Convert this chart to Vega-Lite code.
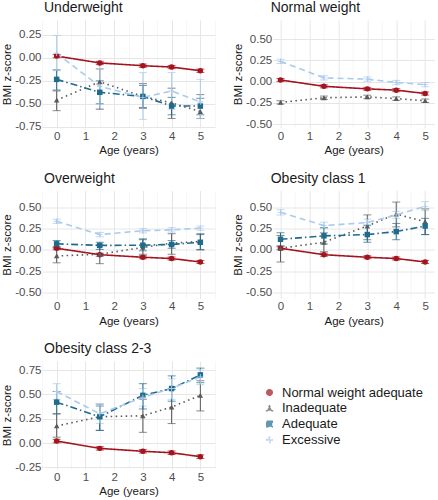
{
  "$schema": "https://vega.github.io/schema/vega-lite/v6.json",
  "padding": {"left": 1, "top": 1, "right": 0, "bottom": 0},
  "background": "white",
  "config": {
    "font": "Liberation Sans",
    "view": {"stroke": null},
    "axis": {"labelFont": "Liberation Sans", "labelFontSize": 11.5, "labelColor": "#4d4d4d", "titleFont": "Liberation Sans", "titleFontSize": 11.5, "titleFontWeight": "normal", "titleColor": "#1a1a1a", "domain": false, "ticks": false, "gridColor": "#e6e6e6", "labelPadding": 1, "labelOverlap": false, "labelFlush": false},
    "axisY": {"titlePadding": 2},
    "axisX": {"titlePadding": 3, "labelPadding": 2},
    "title": {"anchor": "start", "frame": "group", "fontSize": 14, "fontWeight": "normal", "color": "#1a1a1a", "font": "Liberation Sans", "offset": 5},
    "legend": {"labelFont": "Liberation Sans", "labelFontSize": 13, "labelColor": "#1a1a1a", "symbolSize": 30, "rowPadding": 1.8, "labelOffset": 6}
  },
  "data": {"values": [
    {"panel": "Reference", "group": "Normal weight adequate", "age": 0, "y": 0.02, "lo": 0.002, "hi": 0.038},
    {"panel": "Reference", "group": "Normal weight adequate", "age": 1.5, "y": -0.055, "lo": -0.073, "hi": -0.037},
    {"panel": "Reference", "group": "Normal weight adequate", "age": 3, "y": -0.085, "lo": -0.103, "hi": -0.067},
    {"panel": "Reference", "group": "Normal weight adequate", "age": 4, "y": -0.1, "lo": -0.118, "hi": -0.082},
    {"panel": "Reference", "group": "Normal weight adequate", "age": 5, "y": -0.14, "lo": -0.158, "hi": -0.122},

    {"panel": "Underweight", "group": "Inadequate", "age": 0, "y": -0.46, "lo": -0.575, "hi": -0.36},
    {"panel": "Underweight", "group": "Inadequate", "age": 1.5, "y": -0.26, "lo": -0.56, "hi": -0.12},
    {"panel": "Underweight", "group": "Inadequate", "age": 3, "y": -0.42, "lo": -0.55, "hi": -0.28},
    {"panel": "Underweight", "group": "Inadequate", "age": 4, "y": -0.49, "lo": -0.66, "hi": -0.33},
    {"panel": "Underweight", "group": "Inadequate", "age": 5, "y": -0.585, "lo": -0.66, "hi": -0.4},
    {"panel": "Underweight", "group": "Adequate", "age": 0, "y": -0.234, "lo": -0.35, "hi": -0.13},
    {"panel": "Underweight", "group": "Adequate", "age": 1.5, "y": -0.375, "lo": -0.5, "hi": -0.25},
    {"panel": "Underweight", "group": "Adequate", "age": 3, "y": -0.42, "lo": -0.54, "hi": -0.3},
    {"panel": "Underweight", "group": "Adequate", "age": 4, "y": -0.525, "lo": -0.62, "hi": -0.43},
    {"panel": "Underweight", "group": "Adequate", "age": 5, "y": -0.525, "lo": -0.62, "hi": -0.44},
    {"panel": "Underweight", "group": "Excessive", "age": 0, "y": 0.05, "lo": -0.14, "hi": 0.245},
    {"panel": "Underweight", "group": "Excessive", "age": 1.5, "y": -0.31, "lo": -0.55, "hi": -0.06},
    {"panel": "Underweight", "group": "Excessive", "age": 3, "y": -0.43, "lo": -0.67, "hi": -0.16},
    {"panel": "Underweight", "group": "Excessive", "age": 4, "y": -0.36, "lo": -0.56, "hi": -0.16},
    {"panel": "Underweight", "group": "Excessive", "age": 5, "y": -0.48, "lo": -0.66, "hi": -0.234},

    {"panel": "Normal weight", "group": "Inadequate", "age": 0, "y": -0.245, "lo": -0.265, "hi": -0.225},
    {"panel": "Normal weight", "group": "Inadequate", "age": 1.5, "y": -0.19, "lo": -0.21, "hi": -0.17},
    {"panel": "Normal weight", "group": "Inadequate", "age": 3, "y": -0.18, "lo": -0.2, "hi": -0.16},
    {"panel": "Normal weight", "group": "Inadequate", "age": 4, "y": -0.2, "lo": -0.22, "hi": -0.18},
    {"panel": "Normal weight", "group": "Inadequate", "age": 5, "y": -0.225, "lo": -0.245, "hi": -0.205},
    {"panel": "Normal weight", "group": "Excessive", "age": 0, "y": 0.24, "lo": 0.215, "hi": 0.265},
    {"panel": "Normal weight", "group": "Excessive", "age": 1.5, "y": 0.045, "lo": 0.02, "hi": 0.07},
    {"panel": "Normal weight", "group": "Excessive", "age": 3, "y": 0.03, "lo": 0.005, "hi": 0.055},
    {"panel": "Normal weight", "group": "Excessive", "age": 4, "y": -0.01, "lo": -0.035, "hi": 0.015},
    {"panel": "Normal weight", "group": "Excessive", "age": 5, "y": -0.035, "lo": -0.06, "hi": -0.01},

    {"panel": "Overweight", "group": "Inadequate", "age": 0, "y": -0.07, "lo": -0.15, "hi": 0.02},
    {"panel": "Overweight", "group": "Inadequate", "age": 1.5, "y": -0.05, "lo": -0.16, "hi": 0.06},
    {"panel": "Overweight", "group": "Inadequate", "age": 3, "y": 0.03, "lo": -0.05, "hi": 0.12},
    {"panel": "Overweight", "group": "Inadequate", "age": 4, "y": 0.08, "lo": -0.05, "hi": 0.19},
    {"panel": "Overweight", "group": "Inadequate", "age": 5, "y": 0.1, "lo": 0.0, "hi": 0.19},
    {"panel": "Overweight", "group": "Adequate", "age": 0, "y": 0.072, "lo": 0.03, "hi": 0.11},
    {"panel": "Overweight", "group": "Adequate", "age": 1.5, "y": 0.053, "lo": 0.006, "hi": 0.09},
    {"panel": "Overweight", "group": "Adequate", "age": 3, "y": 0.056, "lo": -0.01, "hi": 0.13},
    {"panel": "Overweight", "group": "Adequate", "age": 4, "y": 0.064, "lo": 0.02, "hi": 0.11},
    {"panel": "Overweight", "group": "Adequate", "age": 5, "y": 0.09, "lo": 0.006, "hi": 0.18},
    {"panel": "Overweight", "group": "Excessive", "age": 0, "y": 0.335, "lo": 0.31, "hi": 0.36},
    {"panel": "Overweight", "group": "Excessive", "age": 1.5, "y": 0.18, "lo": 0.155, "hi": 0.205},
    {"panel": "Overweight", "group": "Excessive", "age": 3, "y": 0.225, "lo": 0.2, "hi": 0.25},
    {"panel": "Overweight", "group": "Excessive", "age": 4, "y": 0.235, "lo": 0.21, "hi": 0.26},
    {"panel": "Overweight", "group": "Excessive", "age": 5, "y": 0.255, "lo": 0.23, "hi": 0.28},

    {"panel": "Obesity class 1", "group": "Inadequate", "age": 0, "y": 0.02, "lo": -0.14, "hi": 0.17},
    {"panel": "Obesity class 1", "group": "Inadequate", "age": 1.5, "y": 0.09, "lo": -0.02, "hi": 0.2},
    {"panel": "Obesity class 1", "group": "Inadequate", "age": 3, "y": 0.28, "lo": 0.12, "hi": 0.41},
    {"panel": "Obesity class 1", "group": "Inadequate", "age": 4, "y": 0.42, "lo": 0.27, "hi": 0.56},
    {"panel": "Obesity class 1", "group": "Inadequate", "age": 5, "y": 0.33, "lo": 0.18, "hi": 0.48},
    {"panel": "Obesity class 1", "group": "Adequate", "age": 0, "y": 0.125, "lo": 0.05, "hi": 0.2},
    {"panel": "Obesity class 1", "group": "Adequate", "age": 1.5, "y": 0.165, "lo": 0.07, "hi": 0.26},
    {"panel": "Obesity class 1", "group": "Adequate", "age": 3, "y": 0.18, "lo": 0.09, "hi": 0.29},
    {"panel": "Obesity class 1", "group": "Adequate", "age": 4, "y": 0.215, "lo": 0.12, "hi": 0.31},
    {"panel": "Obesity class 1", "group": "Adequate", "age": 5, "y": 0.28, "lo": 0.18, "hi": 0.37},
    {"panel": "Obesity class 1", "group": "Excessive", "age": 0, "y": 0.44, "lo": 0.41, "hi": 0.47},
    {"panel": "Obesity class 1", "group": "Excessive", "age": 1.5, "y": 0.285, "lo": 0.255, "hi": 0.325},
    {"panel": "Obesity class 1", "group": "Excessive", "age": 3, "y": 0.32, "lo": 0.28, "hi": 0.36},
    {"panel": "Obesity class 1", "group": "Excessive", "age": 4, "y": 0.41, "lo": 0.37, "hi": 0.45},
    {"panel": "Obesity class 1", "group": "Excessive", "age": 5, "y": 0.51, "lo": 0.46, "hi": 0.565},

    {"panel": "Obesity class 2-3", "group": "Inadequate", "age": 0, "y": 0.175, "lo": 0.06, "hi": 0.3},
    {"panel": "Obesity class 2-3", "group": "Inadequate", "age": 1.5, "y": 0.27, "lo": 0.13, "hi": 0.4},
    {"panel": "Obesity class 2-3", "group": "Inadequate", "age": 3, "y": 0.28, "lo": 0.11, "hi": 0.45},
    {"panel": "Obesity class 2-3", "group": "Inadequate", "age": 4, "y": 0.37, "lo": 0.2, "hi": 0.55},
    {"panel": "Obesity class 2-3", "group": "Inadequate", "age": 5, "y": 0.49, "lo": 0.33, "hi": 0.64},
    {"panel": "Obesity class 2-3", "group": "Adequate", "age": 0, "y": 0.42, "lo": 0.3, "hi": 0.53},
    {"panel": "Obesity class 2-3", "group": "Adequate", "age": 1.5, "y": 0.27, "lo": 0.13, "hi": 0.38},
    {"panel": "Obesity class 2-3", "group": "Adequate", "age": 3, "y": 0.49, "lo": 0.35, "hi": 0.61},
    {"panel": "Obesity class 2-3", "group": "Adequate", "age": 4, "y": 0.56, "lo": 0.43, "hi": 0.69},
    {"panel": "Obesity class 2-3", "group": "Adequate", "age": 5, "y": 0.7, "lo": 0.62, "hi": 0.77},
    {"panel": "Obesity class 2-3", "group": "Excessive", "age": 0, "y": 0.53, "lo": 0.45, "hi": 0.61},
    {"panel": "Obesity class 2-3", "group": "Excessive", "age": 1.5, "y": 0.3, "lo": 0.2, "hi": 0.4},
    {"panel": "Obesity class 2-3", "group": "Excessive", "age": 3, "y": 0.47, "lo": 0.38, "hi": 0.56},
    {"panel": "Obesity class 2-3", "group": "Excessive", "age": 4, "y": 0.56, "lo": 0.45, "hi": 0.66},
    {"panel": "Obesity class 2-3", "group": "Excessive", "age": 5, "y": 0.68, "lo": 0.6, "hi": 0.76}
  ]},
  "spacing": 15.5,
  "vconcat": [
    {"hconcat": [
      {
        "width": 173, "height": 108,
        "title": {"text": "Underweight", "dx": 2},
        "transform": [{"filter": "datum.panel === 'Underweight' || datum.panel === 'Reference'"}],
        "encoding": {
          "x": {"field": "age", "type": "quantitative", "scale": {"domain": [-0.51, 5.51], "nice": false, "zero": false}, "axis": {"title": "Age (years)", "labelOverlap": false, "values": [-0.5, 0, 0.5, 1, 1.5, 2, 2.5, 3, 3.5, 4, 4.5, 5, 5.5], "labelExpr": "datum.value % 1 === 0 ? format(datum.value, 'd') : ''", "gridWidth": {"condition": {"test": "datum.value % 1 === 0", "value": 1}, "value": 0.6}, "gridColor": {"condition": {"test": "datum.value % 1 === 0", "value": "#e6e6e6"}, "value": "#f0f0f0"}}},
          "color": {"field": "group", "type": "nominal", "scale": {"domain": ["Normal weight adequate", "Inadequate", "Adequate", "Excessive"], "range": ["#a3141f", "#5a5a5a", "#1f6b8e", "#a9cbed"]},
            "legend": {"title": null, "orient": "none", "legendX": 221, "legendY": 366}}
        },
        "layer": [
          {"mark": {"type": "errorbar", "ticks": {"size": 8}, "thickness": 1},
           "encoding": {"y": {"field": "lo", "type": "quantitative", "scale": {"domain": [-0.764, 0.413], "nice": false, "zero": false}, "axis": {"title": "BMI z-score", "labelOverlap": false, "values": [-0.75, -0.5, -0.25, 0, 0.25], "labelExpr": "replace(format(datum.value, '.2f'), '\u2212', '-')"}}, "y2": {"field": "hi"}}},
          {"mark": {"type": "line", "strokeWidth": 1.6},
           "encoding": {"y": {"field": "y", "type": "quantitative", "scale": {"domain": [-0.764, 0.413], "nice": false, "zero": false}, "axis": {"title": "BMI z-score", "labelOverlap": false, "values": [-0.75, -0.5, -0.25, 0, 0.25], "labelExpr": "replace(format(datum.value, '.2f'), '\u2212', '-')"}},
             "strokeDash": {"field": "group", "type": "nominal", "scale": {"domain": ["Normal weight adequate", "Inadequate", "Adequate", "Excessive"], "range": [[1, 0], [1.5, 3.5], [7, 3, 1.5, 3], [6, 4]]}, "legend": null}}},
          {"mark": {"type": "point", "filled": true, "size": 30, "opacity": 1},
           "encoding": {"y": {"field": "y", "type": "quantitative", "scale": {"domain": [-0.764, 0.413], "nice": false, "zero": false}, "axis": {"title": "BMI z-score", "labelOverlap": false, "values": [-0.75, -0.5, -0.25, 0, 0.25], "labelExpr": "replace(format(datum.value, '.2f'), '\u2212', '-')"}},
             "shape": {"field": "group", "type": "nominal", "scale": {"domain": ["Normal weight adequate", "Inadequate", "Adequate", "Excessive"], "range": ["circle", "triangle-up", "square", "M-1,-0.16H-0.16V-1H0.16V-0.16H1V0.16H0.16V1H-0.16V0.16H-1Z"]},
               "legend": {"title": null, "orient": "none", "legendX": 221, "legendY": 366}}}}
        ]
      },
      {
        "width": 162, "height": 108,
        "title": {"text": "Normal weight", "dx": -2},
        "transform": [{"filter": "datum.panel === 'Normal weight' || datum.panel === 'Reference'"}],
        "encoding": {
          "x": {"field": "age", "type": "quantitative", "scale": {"domain": [-0.27, 5.33], "nice": false, "zero": false}, "axis": {"title": "Age (years)", "labelOverlap": false, "values": [0, 0.5, 1, 1.5, 2, 2.5, 3, 3.5, 4, 4.5, 5], "labelExpr": "datum.value % 1 === 0 ? format(datum.value, 'd') : ''", "gridWidth": {"condition": {"test": "datum.value % 1 === 0", "value": 1}, "value": 0.6}, "gridColor": {"condition": {"test": "datum.value % 1 === 0", "value": "#e6e6e6"}, "value": "#f0f0f0"}}},
          "color": {"field": "group", "type": "nominal", "scale": {"domain": ["Normal weight adequate", "Inadequate", "Adequate", "Excessive"], "range": ["#a3141f", "#5a5a5a", "#1f6b8e", "#a9cbed"]},
            "legend": {"title": null, "orient": "none", "legendX": 221, "legendY": 366}}
        },
        "layer": [
          {"mark": {"type": "errorbar", "ticks": {"size": 8}, "thickness": 1},
           "encoding": {"y": {"field": "lo", "type": "quantitative", "scale": {"domain": [-0.547, 0.728], "nice": false, "zero": false}, "axis": {"title": "BMI z-score", "labelOverlap": false, "values": [-0.5, -0.25, 0, 0.25, 0.5], "labelExpr": "replace(format(datum.value, '.2f'), '\u2212', '-')"}}, "y2": {"field": "hi"}}},
          {"mark": {"type": "line", "strokeWidth": 1.6},
           "encoding": {"y": {"field": "y", "type": "quantitative", "scale": {"domain": [-0.547, 0.728], "nice": false, "zero": false}, "axis": {"title": "BMI z-score", "labelOverlap": false, "values": [-0.5, -0.25, 0, 0.25, 0.5], "labelExpr": "replace(format(datum.value, '.2f'), '\u2212', '-')"}},
             "strokeDash": {"field": "group", "type": "nominal", "scale": {"domain": ["Normal weight adequate", "Inadequate", "Adequate", "Excessive"], "range": [[1, 0], [1.5, 3.5], [7, 3, 1.5, 3], [6, 4]]}, "legend": null}}},
          {"mark": {"type": "point", "filled": true, "size": 30, "opacity": 1},
           "encoding": {"y": {"field": "y", "type": "quantitative", "scale": {"domain": [-0.547, 0.728], "nice": false, "zero": false}, "axis": {"title": "BMI z-score", "labelOverlap": false, "values": [-0.5, -0.25, 0, 0.25, 0.5], "labelExpr": "replace(format(datum.value, '.2f'), '\u2212', '-')"}},
             "shape": {"field": "group", "type": "nominal", "scale": {"domain": ["Normal weight adequate", "Inadequate", "Adequate", "Excessive"], "range": ["circle", "triangle-up", "square", "M-1,-0.16H-0.16V-1H0.16V-0.16H1V0.16H0.16V1H-0.16V0.16H-1Z"]},
               "legend": {"title": null, "orient": "none", "legendX": 221, "legendY": 366}}}}
        ]
      }
    ], "spacing": 16.7},
    {"hconcat": [
      {
        "width": 173, "height": 108,
        "title": {"text": "Overweight", "dx": 2},
        "transform": [{"filter": "datum.panel === 'Overweight' || datum.panel === 'Reference'"}],
        "encoding": {
          "x": {"field": "age", "type": "quantitative", "scale": {"domain": [-0.51, 5.51], "nice": false, "zero": false}, "axis": {"title": "Age (years)", "labelOverlap": false, "values": [-0.5, 0, 0.5, 1, 1.5, 2, 2.5, 3, 3.5, 4, 4.5, 5, 5.5], "labelExpr": "datum.value % 1 === 0 ? format(datum.value, 'd') : ''", "gridWidth": {"condition": {"test": "datum.value % 1 === 0", "value": 1}, "value": 0.6}, "gridColor": {"condition": {"test": "datum.value % 1 === 0", "value": "#e6e6e6"}, "value": "#f0f0f0"}}},
          "color": {"field": "group", "type": "nominal", "scale": {"domain": ["Normal weight adequate", "Inadequate", "Adequate", "Excessive"], "range": ["#a3141f", "#5a5a5a", "#1f6b8e", "#a9cbed"]},
            "legend": {"title": null, "orient": "none", "legendX": 221, "legendY": 366}}
        },
        "layer": [
          {"mark": {"type": "errorbar", "ticks": {"size": 8}, "thickness": 1},
           "encoding": {"y": {"field": "lo", "type": "quantitative", "scale": {"domain": [-0.567, 0.695], "nice": false, "zero": false}, "axis": {"title": "BMI z-score", "labelOverlap": false, "values": [-0.5, -0.25, 0, 0.25, 0.5], "labelExpr": "replace(format(datum.value, '.2f'), '\u2212', '-')"}}, "y2": {"field": "hi"}}},
          {"mark": {"type": "line", "strokeWidth": 1.6},
           "encoding": {"y": {"field": "y", "type": "quantitative", "scale": {"domain": [-0.567, 0.695], "nice": false, "zero": false}, "axis": {"title": "BMI z-score", "labelOverlap": false, "values": [-0.5, -0.25, 0, 0.25, 0.5], "labelExpr": "replace(format(datum.value, '.2f'), '\u2212', '-')"}},
             "strokeDash": {"field": "group", "type": "nominal", "scale": {"domain": ["Normal weight adequate", "Inadequate", "Adequate", "Excessive"], "range": [[1, 0], [1.5, 3.5], [7, 3, 1.5, 3], [6, 4]]}, "legend": null}}},
          {"mark": {"type": "point", "filled": true, "size": 30, "opacity": 1},
           "encoding": {"y": {"field": "y", "type": "quantitative", "scale": {"domain": [-0.567, 0.695], "nice": false, "zero": false}, "axis": {"title": "BMI z-score", "labelOverlap": false, "values": [-0.5, -0.25, 0, 0.25, 0.5], "labelExpr": "replace(format(datum.value, '.2f'), '\u2212', '-')"}},
             "shape": {"field": "group", "type": "nominal", "scale": {"domain": ["Normal weight adequate", "Inadequate", "Adequate", "Excessive"], "range": ["circle", "triangle-up", "square", "M-1,-0.16H-0.16V-1H0.16V-0.16H1V0.16H0.16V1H-0.16V0.16H-1Z"]},
               "legend": {"title": null, "orient": "none", "legendX": 221, "legendY": 366}}}}
        ]
      },
      {
        "width": 162, "height": 108,
        "title": {"text": "Obesity class 1", "dx": -2},
        "transform": [{"filter": "datum.panel === 'Obesity class 1' || datum.panel === 'Reference'"}],
        "encoding": {
          "x": {"field": "age", "type": "quantitative", "scale": {"domain": [-0.27, 5.33], "nice": false, "zero": false}, "axis": {"title": "Age (years)", "labelOverlap": false, "values": [0, 0.5, 1, 1.5, 2, 2.5, 3, 3.5, 4, 4.5, 5], "labelExpr": "datum.value % 1 === 0 ? format(datum.value, 'd') : ''", "gridWidth": {"condition": {"test": "datum.value % 1 === 0", "value": 1}, "value": 0.6}, "gridColor": {"condition": {"test": "datum.value % 1 === 0", "value": "#e6e6e6"}, "value": "#f0f0f0"}}},
          "color": {"field": "group", "type": "nominal", "scale": {"domain": ["Normal weight adequate", "Inadequate", "Adequate", "Excessive"], "range": ["#a3141f", "#5a5a5a", "#1f6b8e", "#a9cbed"]},
            "legend": {"title": null, "orient": "none", "legendX": 221, "legendY": 366}}
        },
        "layer": [
          {"mark": {"type": "errorbar", "ticks": {"size": 8}, "thickness": 1},
           "encoding": {"y": {"field": "lo", "type": "quantitative", "scale": {"domain": [-0.567, 0.695], "nice": false, "zero": false}, "axis": {"title": "BMI z-score", "labelOverlap": false, "values": [-0.5, -0.25, 0, 0.25, 0.5], "labelExpr": "replace(format(datum.value, '.2f'), '\u2212', '-')"}}, "y2": {"field": "hi"}}},
          {"mark": {"type": "line", "strokeWidth": 1.6},
           "encoding": {"y": {"field": "y", "type": "quantitative", "scale": {"domain": [-0.567, 0.695], "nice": false, "zero": false}, "axis": {"title": "BMI z-score", "labelOverlap": false, "values": [-0.5, -0.25, 0, 0.25, 0.5], "labelExpr": "replace(format(datum.value, '.2f'), '\u2212', '-')"}},
             "strokeDash": {"field": "group", "type": "nominal", "scale": {"domain": ["Normal weight adequate", "Inadequate", "Adequate", "Excessive"], "range": [[1, 0], [1.5, 3.5], [7, 3, 1.5, 3], [6, 4]]}, "legend": null}}},
          {"mark": {"type": "point", "filled": true, "size": 30, "opacity": 1},
           "encoding": {"y": {"field": "y", "type": "quantitative", "scale": {"domain": [-0.567, 0.695], "nice": false, "zero": false}, "axis": {"title": "BMI z-score", "labelOverlap": false, "values": [-0.5, -0.25, 0, 0.25, 0.5], "labelExpr": "replace(format(datum.value, '.2f'), '\u2212', '-')"}},
             "shape": {"field": "group", "type": "nominal", "scale": {"domain": ["Normal weight adequate", "Inadequate", "Adequate", "Excessive"], "range": ["circle", "triangle-up", "square", "M-1,-0.16H-0.16V-1H0.16V-0.16H1V0.16H0.16V1H-0.16V0.16H-1Z"]},
               "legend": {"title": null, "orient": "none", "legendX": 221, "legendY": 366}}}}
        ]
      }
    ], "spacing": 16.7},
    {"hconcat": [
      {
        "width": 173, "height": 108,
        "title": {"text": "Obesity class 2-3", "dx": 2},
        "transform": [{"filter": "datum.panel === 'Obesity class 2-3' || datum.panel === 'Reference'"}],
        "encoding": {
          "x": {"field": "age", "type": "quantitative", "scale": {"domain": [-0.51, 5.51], "nice": false, "zero": false}, "axis": {"title": "Age (years)", "labelOverlap": false, "values": [-0.5, 0, 0.5, 1, 1.5, 2, 2.5, 3, 3.5, 4, 4.5, 5, 5.5], "labelExpr": "datum.value % 1 === 0 ? format(datum.value, 'd') : ''", "gridWidth": {"condition": {"test": "datum.value % 1 === 0", "value": 1}, "value": 0.6}, "gridColor": {"condition": {"test": "datum.value % 1 === 0", "value": "#e6e6e6"}, "value": "#f0f0f0"}}},
          "color": {"field": "group", "type": "nominal", "scale": {"domain": ["Normal weight adequate", "Inadequate", "Adequate", "Excessive"], "range": ["#a3141f", "#5a5a5a", "#1f6b8e", "#a9cbed"]},
            "legend": {"title": null, "orient": "none", "legendX": 221, "legendY": 366}}
        },
        "layer": [
          {"mark": {"type": "errorbar", "ticks": {"size": 8}, "thickness": 1},
           "encoding": {"y": {"field": "lo", "type": "quantitative", "scale": {"domain": [-0.267, 0.843], "nice": false, "zero": false}, "axis": {"title": "BMI z-score", "labelOverlap": false, "values": [-0.25, 0, 0.25, 0.5, 0.75], "labelExpr": "replace(format(datum.value, '.2f'), '\u2212', '-')"}}, "y2": {"field": "hi"}}},
          {"mark": {"type": "line", "strokeWidth": 1.6},
           "encoding": {"y": {"field": "y", "type": "quantitative", "scale": {"domain": [-0.267, 0.843], "nice": false, "zero": false}, "axis": {"title": "BMI z-score", "labelOverlap": false, "values": [-0.25, 0, 0.25, 0.5, 0.75], "labelExpr": "replace(format(datum.value, '.2f'), '\u2212', '-')"}},
             "strokeDash": {"field": "group", "type": "nominal", "scale": {"domain": ["Normal weight adequate", "Inadequate", "Adequate", "Excessive"], "range": [[1, 0], [1.5, 3.5], [7, 3, 1.5, 3], [6, 4]]}, "legend": null}}},
          {"mark": {"type": "point", "filled": true, "size": 30, "opacity": 1},
           "encoding": {"y": {"field": "y", "type": "quantitative", "scale": {"domain": [-0.267, 0.843], "nice": false, "zero": false}, "axis": {"title": "BMI z-score", "labelOverlap": false, "values": [-0.25, 0, 0.25, 0.5, 0.75], "labelExpr": "replace(format(datum.value, '.2f'), '\u2212', '-')"}},
             "shape": {"field": "group", "type": "nominal", "scale": {"domain": ["Normal weight adequate", "Inadequate", "Adequate", "Excessive"], "range": ["circle", "triangle-up", "square", "M-1,-0.16H-0.16V-1H0.16V-0.16H1V0.16H0.16V1H-0.16V0.16H-1Z"]},
               "legend": {"title": null, "orient": "none", "legendX": 221, "legendY": 366}}}}
        ]
      }
    ]}
  ]
}
